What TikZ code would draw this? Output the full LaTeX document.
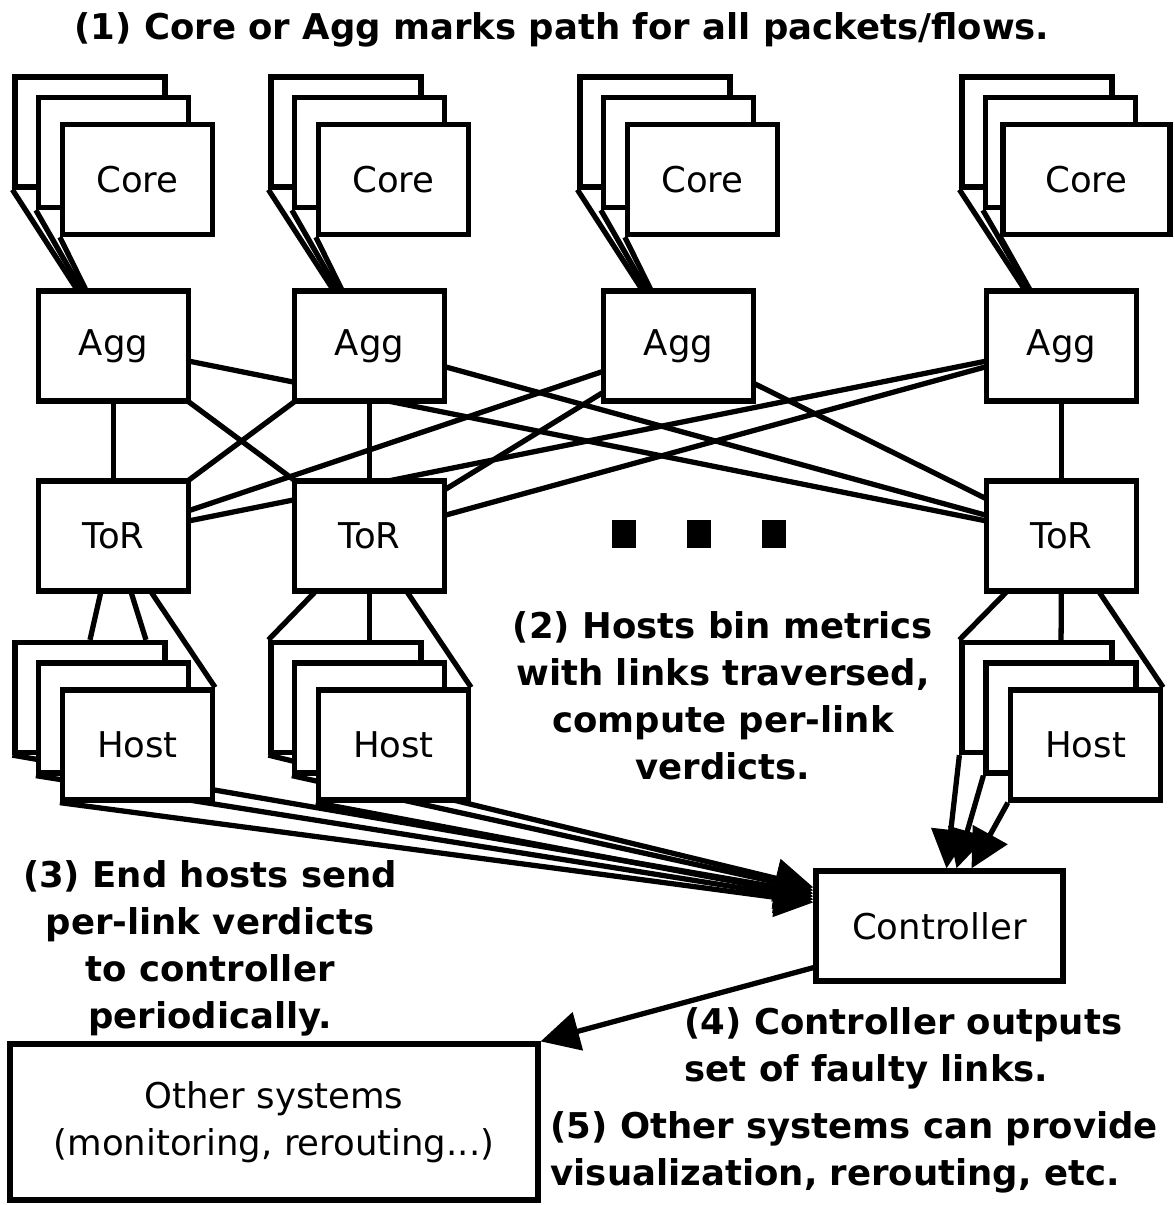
\documentclass[tikz,border=0pt]{standalone}
\usepackage{fontspec}
\setmainfont{DejaVu Sans}
\usetikzlibrary{arrows.meta,calc,backgrounds}

\begin{document}
\begin{tikzpicture}[
    x=0.02cm, y=-0.02cm,
    line width=3pt,
    sw/.style={draw, fill=white, minimum width=3cm, minimum height=2.2cm, inner sep=0pt, font=\fontsize{20.2}{26.7}\selectfont},
    wide/.style={sw, minimum width=3.34cm},
    ctl/.style={sw, minimum width=4.94cm},
    sys/.style={sw, minimum width=10.56cm, minimum height=3.12cm, align=center},
    note/.style={font=\fontsize{20.2}{26.7}\selectfont\bfseries, align=center, inner sep=0pt},
    link/.style={line width=3pt},
    arr/.style={-{Triangle[length=22pt,width=22pt]}, line width=3pt}
]
\useasboundingbox (0,0) rectangle (1175,1205);

% core stacks
\node[sw] (core1a) at (90,132) {};
\node[sw] (core1b) at (113.5,152.5) {};
\node[sw] (core1c) at (137.5,179.5) {Core};
\node[sw] (core2a) at (346,132) {};
\node[sw] (core2b) at (369.5,152.5) {};
\node[sw] (core2c) at (393.5,179.5) {Core};
\node[sw] (core3a) at (655,132) {};
\node[sw] (core3b) at (678.5,152.5) {};
\node[sw] (core3c) at (702.5,179.5) {Core};
\node[sw] (core4a) at (1037,132) {};
\node[sw] (core4b) at (1060.5,152.5) {};
\node[wide] (core4c) at (1086.5,179.5) {Core};

% agg and tor
\node[sw] (agg1) at (113.5,346) {Agg};
\node[sw] (agg2) at (369.5,346) {Agg};
\node[sw] (agg3) at (678.5,346) {Agg};
\node[sw] (agg4) at (1061.5,346) {Agg};
\node[sw] (tor1) at (113.5,536) {ToR};
\node[sw] (tor2) at (369.5,536) {ToR};
\node[sw] (tor3) at (1061.5,536) {ToR};

\fill (612,520) rectangle (636,548);
\fill (687,520) rectangle (711,548);
\fill (762,520) rectangle (786,548);

% host stacks
\node[sw] (host1a) at (90,697.5) {};
\node[sw] (host1b) at (113.5,718) {};
\node[sw] (host1c) at (137.5,745) {Host};
\node[sw] (host2a) at (346,697.5) {};
\node[sw] (host2b) at (369.5,718) {};
\node[sw] (host2c) at (393.5,745) {Host};
\node[sw] (host3a) at (1037,697.5) {};
\node[sw] (host3b) at (1061,718) {};
\node[sw] (host3c) at (1085.5,745) {Host};

\node[ctl] (ctrl) at (939.5,926) {Controller};
\node[sys] (other) at (274,1122) {Other systems\\(monitoring, rerouting...)};

% notes
\node[note] (step1) at (562,30) {(1) Core or Agg marks path for all packets/flows.};
\node[note] (step2) at (723,696) {(2) Hosts bin metrics\\with links traversed,\\compute per-link\\verdicts.};
\node[note] (step3) at (210,948) {(3) End hosts send\\per-link verdicts\\to controller\\periodically.};
\node[note, anchor=west, align=left] (step4) at (682,1048) {(4) Controller outputs\\set of faulty links.};
\node[note, anchor=west, align=left] (step5) at (548,1152) {(5) Other systems can provide\\visualization, rerouting, etc.};

\begin{scope}[on background layer]
% core to agg
\draw[link] (core1a.south west) -- (agg1.center);
\draw[link] (core1b.south west) -- (agg1.center);
\draw[link] (core1c.south west) -- (agg1.center);
\draw[link] (core2a.south west) -- (agg2.center);
\draw[link] (core2b.south west) -- (agg2.center);
\draw[link] (core2c.south west) -- (agg2.center);
\draw[link] (core3a.south west) -- (agg3.center);
\draw[link] (core3b.south west) -- (agg3.center);
\draw[link] (core3c.south west) -- (agg3.center);
\draw[link] (core4a.south west) -- (agg4.center);
\draw[link] (core4b.south west) -- (agg4.center);
\draw[link] (core4c.south west) -- (agg4.center);

% agg to tor
\draw[link] (agg1.center) -- (tor1.center);
\draw[link] (agg1.center) -- (tor2.center);
\draw[link] (agg1.center) -- (tor3.center);
\draw[link] (agg2.center) -- (tor1.center);
\draw[link] (agg2.center) -- (tor2.center);
\draw[link] (agg2.center) -- (tor3.center);
\draw[link] (agg3.center) -- (tor1.center);
\draw[link] (agg3.center) -- (tor2.center);
\draw[link] (agg3.center) -- (tor3.center);
\draw[link] (agg4.center) -- (tor1.center);
\draw[link] (agg4.center) -- (tor2.center);
\draw[link] (agg4.center) -- (tor3.center);

% tor to hosts
\draw[link] (tor1.center) -- (host1a.north);
\draw[link] (tor1.center) -- ($(host1a.north)+(56,0)$);
\draw[link] (tor1.center) -- (host1c.north east);
\draw[link] (tor2.center) -- (host2a.north west);
\draw[link] (tor2.center) -- (host2b.north);
\draw[link] (tor2.center) -- (host2c.north east);
\draw[link] (tor3.center) -- (host3a.north west);
\draw[link] (tor3.center) -- (host3b.north);
\draw[link] (tor3.center) -- (host3c.north east);

% hosts to controller
\draw[arr] (host1a.south west) -- ($(ctrl.north west)+(0,25)$);
\draw[arr] (host1b.south west) -- ($(ctrl.north west)+(0,31)$);
\draw[arr] (host1c.south west) -- ($(ctrl.north west)+(0,34)$);
\draw[arr] (host2a.south west) -- ($(ctrl.north west)+(0,19)$);
\draw[arr] (host2b.south west) -- ($(ctrl.north west)+(0,22)$);
\draw[arr] (host2c.south west) -- ($(ctrl.north west)+(0,28)$);
\draw[arr] (host3a.south west) -- ($(ctrl.north)+(7,0)$);
\draw[arr] (host3b.south west) -- ($(ctrl.north)+(17,0)$);
\draw[arr] (host3c.south west) -- ($(ctrl.north)+(32,0)$);

% controller output
\draw[arr] ($(ctrl.south west)+(0,-16)$) -- (other.north east);
\end{scope}
\end{tikzpicture}
\end{document}
